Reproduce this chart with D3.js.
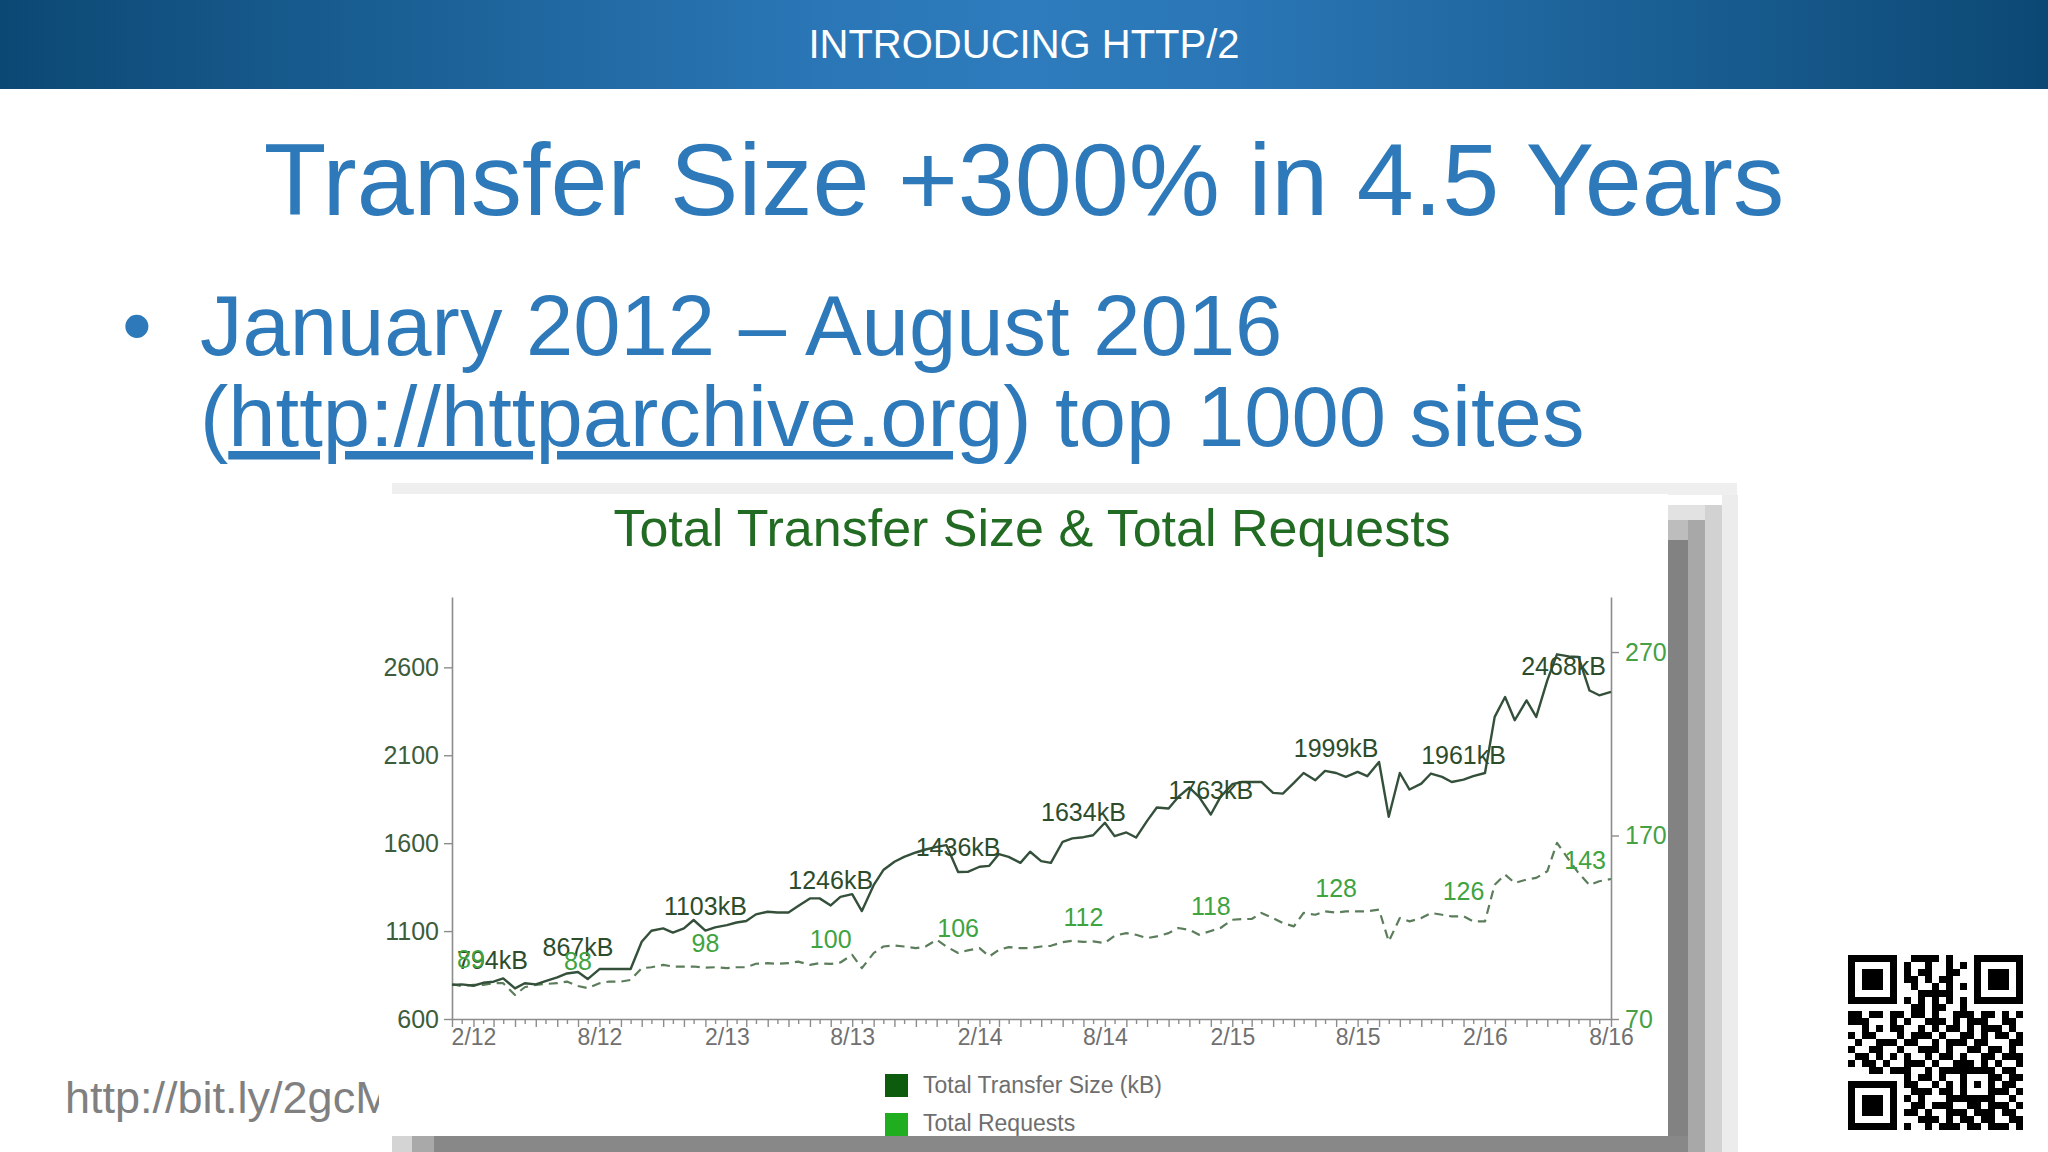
<!DOCTYPE html>
<html><head><meta charset="utf-8">
<script src="https://cdn.jsdelivr.net/npm/d3@7"></script>
<style>
html,body{margin:0;padding:0;background:#fff;}
svg{display:block;font-family:"Liberation Sans",Arial,Helvetica,sans-serif;}
</style>
</head><body>
<svg id="slide" width="2048" height="1152"></svg>
<script>
// ---------------- data ----------------
// semi-monthly HTTP Archive runs, Jan 1 2012 .. Aug 1 2016 (1st and 15th of each month)
const sizeKB = [
  794, 797, 789, 806, 812, 831, 774, 803, 797, 816, 837, 859, 867, 827, 884, 884, 884, 884,
  1039, 1102, 1115, 1091, 1115, 1163, 1103, 1121, 1134, 1149, 1157, 1195, 1210, 1206, 1206,
  1242, 1286, 1286, 1246, 1295, 1310, 1214, 1361, 1447, 1494, 1522, 1547, 1564, 1579, 1589,
  1436, 1437, 1466, 1471, 1538, 1522, 1488, 1551, 1498, 1488, 1608, 1627, 1634, 1645, 1716,
  1640, 1661, 1632, 1727, 1803, 1797, 1863, 1916, 1863, 1763, 1863, 1935, 1948, 1948, 1948,
  1886, 1882, 1943, 1999, 1958, 2011, 1999, 1977, 2005, 1981, 2062, 1750, 1999, 1905, 1939,
  1996, 1977, 1948, 1961, 1981, 1999, 2318, 2431, 2299, 2412, 2318, 2526, 2674, 2662, 2659,
  2468, 2441, 2460
];
const requests = [
  89, 88, 88.6, 88.6, 89.5, 89.5, 83.1, 87.3, 88.6, 89.1, 89.5, 90.4, 88, 86.8, 89.5, 90.4, 90.4, 91.3,
  97.7, 98.2, 99.5, 98.6, 98.6, 98.6, 98, 98.2, 97.7, 98.2, 98.2, 100.1, 100.4, 100.1, 100.4,
  101.3, 99.5, 100.4, 100, 100.8, 105, 97.7, 105.9, 109.5, 110.1, 109.5, 108.6, 109.5, 113.2, 109.5,
  106, 107.4, 108.6, 104.1, 107.7, 109.2, 108.6, 108.6, 109.5, 109.9, 111.9, 112.6, 112, 112.3, 111.4,
  115.4, 116.8, 115.9, 114.1, 115, 116.8, 119.6, 118.6, 115.9, 118, 119.6, 124.1, 124.5, 124.5, 127.8,
  125, 122.3, 120.5, 127.8, 126.8, 128.7, 128, 128.7, 128.7, 128.7, 129.6, 112.3, 125, 123.2, 125,
  127.8, 126.8, 125.9, 126, 123.2, 123.2, 143.2, 148.7, 144.1, 146, 146.9, 150.5, 166, 156.9, 149.6,
  143, 145.1, 146.3
];
const labelIndex = [0, 12, 24, 36, 48, 60, 72, 84, 96, 108];   // points that carry value labels
const sizeTicks = [600, 1100, 1600, 2100, 2600];
const sizeDomain = [600, 3000];
const reqTicks = [70, 170, 270];
const reqDomain = [70, 300];
const xTickLabels = ["2/12","8/12","2/13","8/13","2/14","8/14","2/15","8/15","2/16","8/16"];
const legendLabels = ["Total Transfer Size (kB)", "Total Requests"];
const chartTitle = "Total Transfer Size & Total Requests";
const headerText = "INTRODUCING HTTP/2";
const slideTitle = "Transfer Size +300% in 4.5 Years";
const bulletLine1 = "January 2012 \u2013 August 2016";
const bulletLink = "http://httparchive.org";
const bulletRest = " top 1000 sites";
const footerText = "http://bit.ly/2gcM";
const qrRows = [
  "1111111001111010001111111",
  "1000001010010010101000001",
  "1011101010110011001011101",
  "1011101011010110001011101",
  "1011101001001010101011101",
  "1000001000111110001000001",
  "1111111010101010101111111",
  "0000000001101100100000000",
  "1101101101101001110110101",
  "1110001010011101011100110",
  "0010101100101011010111010",
  "1011000101110100110101101",
  "0100111011001011101100011",
  "1001100100111010011011010",
  "0110101010010110100110111",
  "1011010011101001110101001",
  "0001101110010111111110110",
  "0000000010110100100011011",
  "1111111011001010101010110",
  "1000001001110110100011101",
  "1011101010100011111110010",
  "1011101001101110011011101",
  "1011101011010011101110110",
  "1000001000111010110110011",
  "1111111010010111011011101"
];

// ---------------- drawing ----------------
const svg = d3.select("#slide");
const defs = svg.append("defs");

// header
const hg = defs.append("linearGradient").attr("id","hdr").attr("x1","0").attr("x2","1").attr("y1","0").attr("y2","0");
[["0%","#0c4874"],["18%","#195e92"],["40%","#2a76b6"],["50%","#2e7cbd"],["60%","#2a76b6"],["82%","#195e92"],["100%","#0c4874"]]
  .forEach(s => hg.append("stop").attr("offset", s[0]).attr("stop-color", s[1]));
svg.append("rect").attr("x",0).attr("y",0).attr("width",2048).attr("height",89).attr("fill","url(#hdr)");
svg.append("text").attr("x",1024).attr("y",58).attr("text-anchor","middle")
  .attr("font-size",40).attr("fill","#ffffff").text(headerText);

// title
svg.append("text").attr("x",1024).attr("y",215).attr("text-anchor","middle")
  .attr("font-size",102.5).attr("fill","#2d79b9").text(slideTitle);

// bullet text
const blue = "#2d79b9";
svg.append("text").attr("x",122).attr("y",355).attr("font-size",85).attr("fill",blue).text("\u2022");
svg.append("text").attr("x",200).attr("y",355).attr("font-size",85).attr("fill",blue).text(bulletLine1);
const l2 = svg.append("text").attr("x",200).attr("y",446).attr("font-size",85).attr("fill",blue);
l2.append("tspan").text("(");
l2.append("tspan").style("text-decoration","underline").text(bulletLink);
l2.append("tspan").text(")" + bulletRest);

// footer link (cut by the chart picture)
defs.append("clipPath").attr("id","footclip").append("rect").attr("x",0).attr("y",1000).attr("width",379).attr("height",152);
svg.append("text").attr("x",65).attr("y",1113).attr("font-size",45).attr("fill","#808080")
  .attr("clip-path","url(#footclip)").text(footerText);

// chart picture frame + shadow
const frame = svg.append("g").attr("shape-rendering","crispEdges");
frame.append("rect").attr("x",392).attr("y",483).attr("width",1345).attr("height",12).attr("fill","#efefef");
frame.append("rect").attr("x",1722).attr("y",495).attr("width",16).attr("height",657).attr("fill","#ececec");
frame.append("rect").attr("x",1705).attr("y",505).attr("width",17).attr("height",647).attr("fill","#d2d2d2");
frame.append("rect").attr("x",1688).attr("y",520).attr("width",17).attr("height",632).attr("fill","#a8a8a8");
frame.append("rect").attr("x",1668).attr("y",540).attr("width",20).attr("height",612).attr("fill","#828282");
frame.append("rect").attr("x",1668).attr("y",505).attr("width",37).attr("height",15).attr("fill","#e2e2e2");
frame.append("rect").attr("x",1668).attr("y",520).attr("width",20).attr("height",20).attr("fill","#bdbdbd");
frame.append("rect").attr("x",392).attr("y",1136).attr("width",20).attr("height",16).attr("fill","#d4d4d4");
frame.append("rect").attr("x",412).attr("y",1136).attr("width",22).attr("height",16).attr("fill","#a9a9a9");
frame.append("rect").attr("x",434).attr("y",1136).attr("width",1254).attr("height",16).attr("fill","#888888");
frame.append("rect").attr("x",379).attr("y",494).attr("width",1289).attr("height",642).attr("fill","#ffffff");

// chart
const xDates = sizeKB.map((_, i) => new Date(2012, Math.floor(i / 2), i % 2 ? 15 : 1));
const x = d3.scaleTime().domain([xDates[0], xDates[xDates.length - 1]]).range([452, 1611]);
const yL = d3.scaleLinear().domain(sizeDomain).range([1019, 597]);
const yR = d3.scaleLinear().domain(reqDomain).range([1019, 597]);
const chart = svg.append("g");

chart.append("text").attr("x",1032).attr("y",546).attr("text-anchor","middle")
  .attr("font-size",52).attr("fill","#226b22").text(chartTitle);

const axisColor = "#8c8c8c";
// left axis
const gL = chart.append("g").attr("transform","translate(452,0)")
  .call(d3.axisLeft(yL).tickValues(sizeTicks).tickFormat(d3.format("d")).tickSize(8).tickSizeOuter(0).tickPadding(5));
gL.selectAll("text").attr("font-size",25).attr("fill","#3c5c3c").attr("font-family",null);
// right axis
const gR = chart.append("g").attr("transform","translate(1611,0)")
  .call(d3.axisRight(yR).tickValues(reqTicks).tickFormat(d3.format("d")).tickSize(8).tickSizeOuter(0).tickPadding(6));
gR.selectAll("text").attr("font-size",25).attr("fill","#46a046").attr("font-family",null);
// bottom axis: semi-monthly ticks
const gB = chart.append("g").attr("transform","translate(0,1019)")
  .call(d3.axisBottom(x).tickValues(xDates).tickSize(7).tickSizeOuter(0).tickFormat(""));
gB.selectAll(".tick line").attr("y2", d => d.getDate() === 1 ? 8 : 5);
const labelDates = xTickLabels.map(s => d3.timeParse("%m/%y")(s));
const gBL = chart.append("g").attr("transform","translate(0,1019)")
  .call(d3.axisBottom(x).tickValues(labelDates).tickSize(0).tickPadding(10).tickFormat(d3.timeFormat("%-m/%y")));
gBL.select(".domain").remove();
gBL.selectAll("text").attr("font-size",23).attr("fill","#707070").attr("font-family",null);
[gL, gR, gB].forEach(g => {
  g.select(".domain").attr("stroke", axisColor).attr("stroke-width",1.6);
  g.selectAll(".tick line").attr("stroke", axisColor).attr("stroke-width",1.4);
});

// series
const lineSize = d3.line().x((d, i) => x(xDates[i])).y(d => yL(d));
const lineReq = d3.line().x((d, i) => x(xDates[i])).y(d => yR(d));
chart.append("path").datum(requests).attr("d", lineReq).attr("fill","none")
  .attr("stroke","#5b7d5b").attr("stroke-width",2.2).attr("stroke-dasharray","9,6").attr("stroke-linejoin","round");
chart.append("path").datum(sizeKB).attr("d", lineSize).attr("fill","none")
  .attr("stroke","#34503a").attr("stroke-width",2.4).attr("stroke-linejoin","round");

// value labels
function placeLabels(values, scale, fmt, color) {
  labelIndex.forEach(i => {
    const t = chart.append("text").attr("font-size",25).attr("fill",color).attr("text-anchor","middle")
      .attr("y", scale(values[i]) - 16).text(fmt(values[i]));
    const w = t.node().getComputedTextLength();
    const cx = Math.max(452 + w / 2 + 5, Math.min(1611 - w / 2 - 5, x(xDates[i])));
    t.attr("x", cx);
  });
}
placeLabels(sizeKB, yL, v => v + "kB", "#2c4c2c");
placeLabels(requests, yR, v => String(v), "#3fa33f");

// legend
const legColors = ["#0d5c0d", "#20ad20"];
legendLabels.forEach((lab, i) => {
  chart.append("rect").attr("x",885).attr("y",1074 + i * 39).attr("width",23).attr("height",23).attr("fill",legColors[i]);
  chart.append("text").attr("x",923).attr("y",1093 + i * 38).attr("font-size",23).attr("fill","#6e6e6e").text(lab);
});

// QR code
const qr = svg.append("g").attr("transform","translate(1848,955)").attr("shape-rendering","crispEdges");
qrRows.forEach((row, r) => row.split("").forEach((c, col) => {
  if (c === "1") qr.append("rect").attr("x", col * 7).attr("y", r * 7).attr("width",7).attr("height",7).attr("fill","#000");
}));
</script>
</body></html>
